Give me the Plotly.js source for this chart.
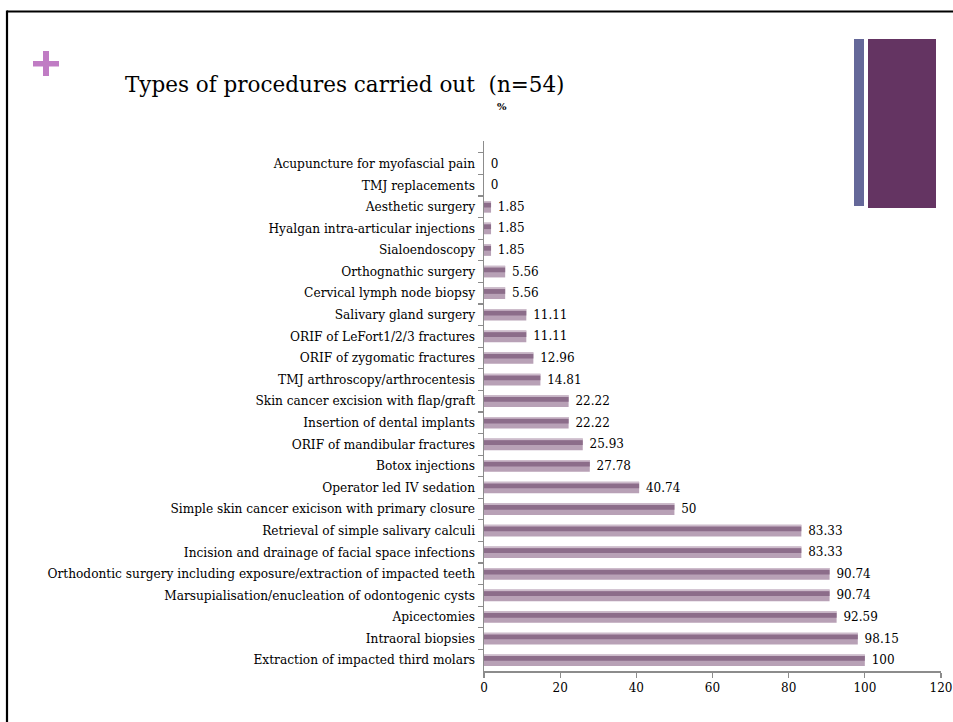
<!DOCTYPE html>
<html>
<head>
<meta charset="utf-8">
<script src="https://cdn.plot.ly/plotly-3.0.1.min.js"></script>
<style>html,body{margin:0;padding:0;background:#fff;}#chart{width:953px;height:722px;}</style>
</head>
<body>
<div id="chart"></div>
<script>
// Categories listed top to bottom as in the chart
var procedures = [
  "Acupuncture for myofascial pain",
  "TMJ replacements",
  "Aesthetic surgery",
  "Hyalgan intra-articular injections",
  "Sialoendoscopy",
  "Orthognathic surgery",
  "Cervical lymph node biopsy",
  "Salivary gland surgery",
  "ORIF of LeFort1/2/3 fractures",
  "ORIF of zygomatic fractures",
  "TMJ arthroscopy/arthrocentesis",
  "Skin cancer excision with flap/graft",
  "Insertion of dental implants",
  "ORIF of mandibular fractures",
  "Botox injections",
  "Operator led IV sedation",
  "Simple skin cancer exicison with primary closure",
  "Retrieval of simple salivary calculi",
  "Incision and drainage of facial space infections",
  "Orthodontic surgery including exposure/extraction of impacted teeth",
  "Marsupialisation/enucleation of odontogenic cysts",
  "Apicectomies",
  "Intraoral biopsies",
  "Extraction of impacted third molars"
];
var percents = [0, 0, 1.85, 1.85, 1.85, 5.56, 5.56, 11.11, 11.11, 12.96, 14.81, 22.22, 22.22, 25.93, 27.78, 40.74, 50, 83.33, 83.33, 90.74, 90.74, 92.59, 98.15, 100];
var xTicks = [0, 20, 40, 60, 80, 100, 120];

var W = 953, H = 722;
function px(x){ return x / W; }
function py(y){ return 1 - y / H; }

var serif = "DejaVu Serif, Liberation Serif, serif";

var base = {
  type: "bar", orientation: "h",
  y: procedures, x: percents,
  width: 0.54, offset: -0.27,
  marker: {color: "#b8a1b6", line: {width: 0}},
  text: percents.map(function(v){ return "\u00a0" + String(v); }),
  textposition: "outside",
  constraintext: "none",
  cliponaxis: false,
  textfont: {family: serif, size: 12, color: "#000"},
  hoverinfo: "y+x", showlegend: false
};
var band = {
  type: "bar", orientation: "h",
  y: procedures, x: percents,
  width: 0.22, offset: -0.19,
  marker: {color: "#8c6d8a", line: {width: 0}},
  hoverinfo: "skip", showlegend: false
};
var edge = {
  type: "bar", orientation: "h",
  y: procedures, x: percents,
  width: 0.07, offset: -0.27,
  marker: {color: "#cdbccb", line: {width: 0}},
  hoverinfo: "skip", showlegend: false
};

var layout = {
  width: W, height: H,
  margin: {l: 0, r: 0, t: 0, b: 0},
  paper_bgcolor: "#fff", plot_bgcolor: "rgba(0,0,0,0)",
  barmode: "overlay",
  font: {family: serif, size: 11, color: "#000"},
  xaxis: {
    domain: [px(484), px(941)],
    range: [0, 120],
    tickvals: xTicks, ticktext: xTicks.map(String),
    showgrid: false, zeroline: false,
    showline: true, linecolor: "#8c8c8c", linewidth: 1.5,
    ticks: "outside", ticklen: 5, tickcolor: "#8c8c8c", tickwidth: 1.2,
    tickfont: {family: serif, size: 12, color: "#000"},
    fixedrange: true
  },
  yaxis: {
    domain: [py(671), py(141)],
    type: "category",
    range: [23.5, -1.05],
    tickson: "boundaries",
    showgrid: false, zeroline: false,
    showline: true, linecolor: "#8c8c8c", linewidth: 1.5,
    ticks: "outside", ticklen: 5, tickcolor: "#8c8c8c", tickwidth: 1.2,
    ticklabelstandoff: 5,
    tickfont: {family: serif, size: 12.2, color: "#000"},
    fixedrange: true
  },
  shapes: [
    // slide frame
    {type: "line", xref: "paper", yref: "paper", x0: px(7), x1: px(953), y0: py(11.5), y1: py(11.5), line: {color: "#000", width: 2.2}},
    {type: "line", xref: "paper", yref: "paper", x0: px(7), x1: px(7), y0: py(10.5), y1: py(722), line: {color: "#000", width: 2.2}},
    // plus sign
    {type: "rect", xref: "paper", yref: "paper", x0: px(33), x1: px(59), y0: py(61), y1: py(66.5), fillcolor: "#c07cc4", line: {width: 0}},
    {type: "rect", xref: "paper", yref: "paper", x0: px(43), x1: px(49), y0: py(51), y1: py(76), fillcolor: "#c07cc4", line: {width: 0}},
    // decorative blocks
    {type: "rect", xref: "paper", yref: "paper", x0: px(854), x1: px(864), y0: py(39), y1: py(206), fillcolor: "#656899", line: {width: 0}},
    {type: "rect", xref: "paper", yref: "paper", x0: px(868), x1: px(936), y0: py(39), y1: py(208), fillcolor: "#643462", line: {width: 0}}
  ],
  annotations: [
    {text: "Types of procedures carried out  (n=54)", xref: "paper", yref: "paper",
     x: px(123), y: py(85), xanchor: "left", yanchor: "middle", showarrow: false,
     font: {family: serif, size: 21.5, color: "#000"}},
    {text: "<b>%</b>", xref: "paper", yref: "paper",
     x: px(502), y: py(106), xanchor: "center", yanchor: "middle", showarrow: false,
     font: {family: serif, size: 10, color: "#000"}}
  ]
};

Plotly.newPlot("chart", [base, band, edge], layout, {displayModeBar: false, staticPlot: true});
</script>
</body>
</html>
